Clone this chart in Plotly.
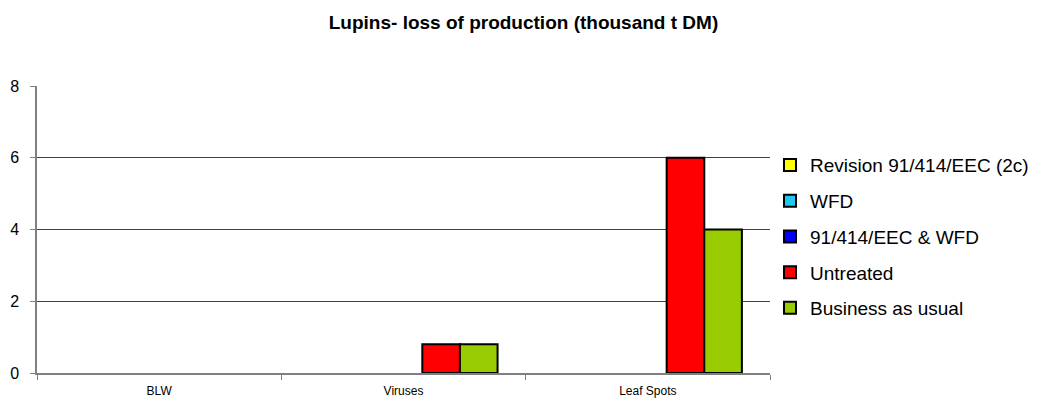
import plotly.graph_objects as go

categories = ["BLW", "Viruses", "Leaf Spots"]
series_names = ["Revision 91/414/EEC (2c)", "WFD", "91/414/EEC & WFD", "Untreated", "Business as usual"]
# empty cells carry no bar
revision_2c = [None, None, None]
wfd = [None, None, None]
eec_wfd = [None, None, None]
untreated = [None, 0.8, 6]
business_as_usual = [None, 0.8, 4]
series_values = [revision_2c, wfd, eec_wfd, untreated, business_as_usual]
colors = ["#FFFF00", "#1EC8F0", "#0000FF", "#FF0000", "#99CC00"]

fig = go.Figure()
for name, vals, col in zip(series_names, series_values, colors):
    fig.add_trace(go.Bar(
        x=categories, y=vals, name=name, legendgroup=name,
        marker=dict(color=col, line=dict(color="#000000", width=2)),
    ))

fig.update_layout(
    width=1047, height=400,
    margin=dict(l=37, r=277, t=86, b=27),
    paper_bgcolor="white", plot_bgcolor="white",
    barmode="group", bargap=0.23, bargroupgap=0,
    title=dict(text="<b>Lupins- loss of production (thousand t DM)</b>",
               x=0.5, xref="container", y=0.945, yref="container", yanchor="middle",
               font=dict(family="Arial, Liberation Sans", size=19, color="#000000")),
    font=dict(family="Arial, Liberation Sans", color="#000000"),
    legend=dict(x=1.0, xanchor="left", xref="paper", y=0.475, yanchor="middle",
                font=dict(size=19), tracegroupgap=8, itemwidth=30,
                bgcolor="rgba(0,0,0,0)", traceorder="grouped"),
    xaxis=dict(showline=True, linecolor="#808080", linewidth=1.5, automargin=False,
               tickson="boundaries", ticks="outside", ticklen=5, tickcolor="#808080",
               tickfont=dict(size=12), ticklabelstandoff=6, showgrid=False),
    yaxis=dict(range=[0, 8], dtick=2, showline=True, linecolor="#808080", linewidth=1.5,
               automargin=False,
               ticks="outside", ticklen=5, tickcolor="#808080",
               showgrid=True, gridcolor="#404040", gridwidth=1,
               tickfont=dict(size=16), ticklabelstandoff=8, zeroline=False),
)

fig.write_html("out.html")
